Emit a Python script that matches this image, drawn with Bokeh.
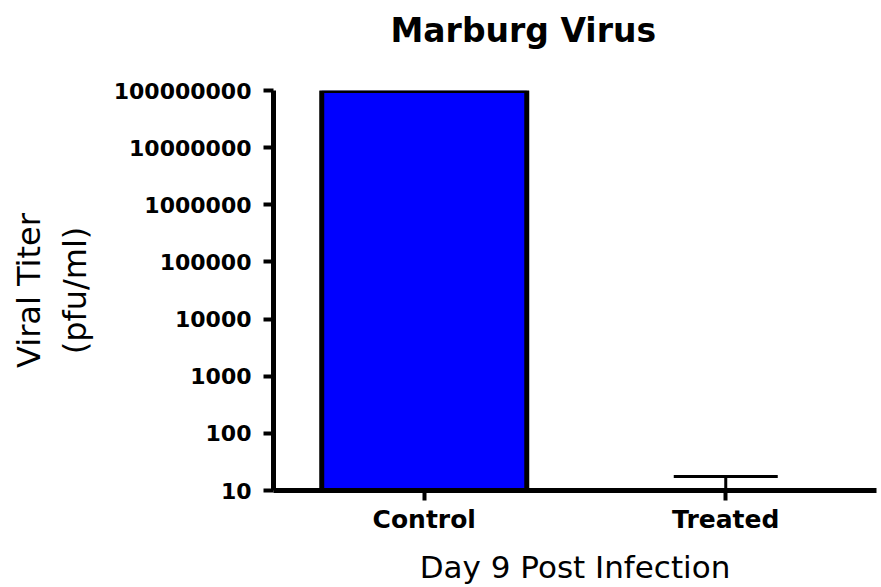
from bokeh.plotting import figure
from bokeh.models import (Range1d, FactorRange, FixedTicker, NumeralTickFormatter,
                          Whisker, TeeHead, ColumnDataSource)
from bokeh.embed import file_html
from bokeh.resources import INLINE

# ---- data ----
categories = ["Control", "Treated"]
titer_mean = [100000000, 10]
titer_upper = [100000000, 17.5]
titer_lower = [100000000, 10]
y_ticks = [10, 100, 1000, 10000, 100000, 1000000, 10000000, 100000000]
y_min = 10
y_max = 100000000
title_text = "Marburg Virus"

FONT = "DejaVu Sans"

src = ColumnDataSource(dict(x=categories, top=titer_mean, bottom=[y_min] * len(categories)))
err_src = ColumnDataSource(dict(x=categories[1:], upper=titer_upper[1:], lower=titer_lower[1:]))

p = figure(width=881, height=587,
           x_range=FactorRange(factors=categories, range_padding=0),
           y_range=Range1d(y_min, y_max), y_axis_type="log",
           output_backend="svg", toolbar_location=None,
           min_border_left=273, min_border_right=5,
           min_border_top=90, min_border_bottom=96)

p.vbar(x="x", top="top", bottom="bottom", width=0.68, source=src,
       fill_color="#0000FF", line_color="black", line_width=5)

p.add_layout(Whisker(source=err_src, base="x", upper="upper", lower="lower",
                     dimension="height", line_color="black", line_width=3,
                     upper_head=TeeHead(size=104, line_color="black", line_width=3),
                     lower_head=None))

# title (a trailing blank line lifts it away from the plot frame)
p.title.text = title_text + "\n "
p.title.align = "left"
p.title.offset = 117
p.title.text_font = FONT
p.title.text_font_size = "33px"
p.title.text_font_style = "bold"
p.title.text_color = "black"
p.title.vertical_align = "bottom"
p.title.standoff = 4

# axes
for ax in (p.xaxis[0], p.yaxis[0]):
    ax.axis_line_width = 5
    ax.axis_line_color = "black"
    ax.major_tick_line_width = 4
    ax.major_tick_line_color = "black"
    ax.major_tick_in = 0
    ax.major_tick_out = 10
    ax.minor_tick_line_color = None
    ax.major_label_text_font = FONT
    ax.major_label_text_font_style = "bold"
    ax.major_label_text_color = "black"
    ax.axis_label_text_font = FONT
    ax.axis_label_text_font_style = "normal"
    ax.axis_label_text_color = "black"

p.yaxis.ticker = FixedTicker(ticks=y_ticks, minor_ticks=[])
p.yaxis.formatter = NumeralTickFormatter(format="0")
p.yaxis.major_label_text_font_size = "22px"
p.yaxis.major_label_standoff = 12
p.yaxis.axis_label = "Viral Titer\n(pfu/ml)"
p.yaxis.axis_label_text_font_size = "32px"
p.yaxis.axis_label_standoff = 17

p.xaxis.major_label_text_font_size = "25px"
p.xaxis.major_label_standoff = 4
p.xaxis.axis_label = "Day 9 Post Infection"
p.xaxis.axis_label_text_font_size = "31px"
p.xaxis.axis_label_standoff = 12

p.xgrid.grid_line_color = None
p.ygrid.grid_line_color = None
p.outline_line_color = None

open("out.html", "w").write(file_html(p, INLINE))
